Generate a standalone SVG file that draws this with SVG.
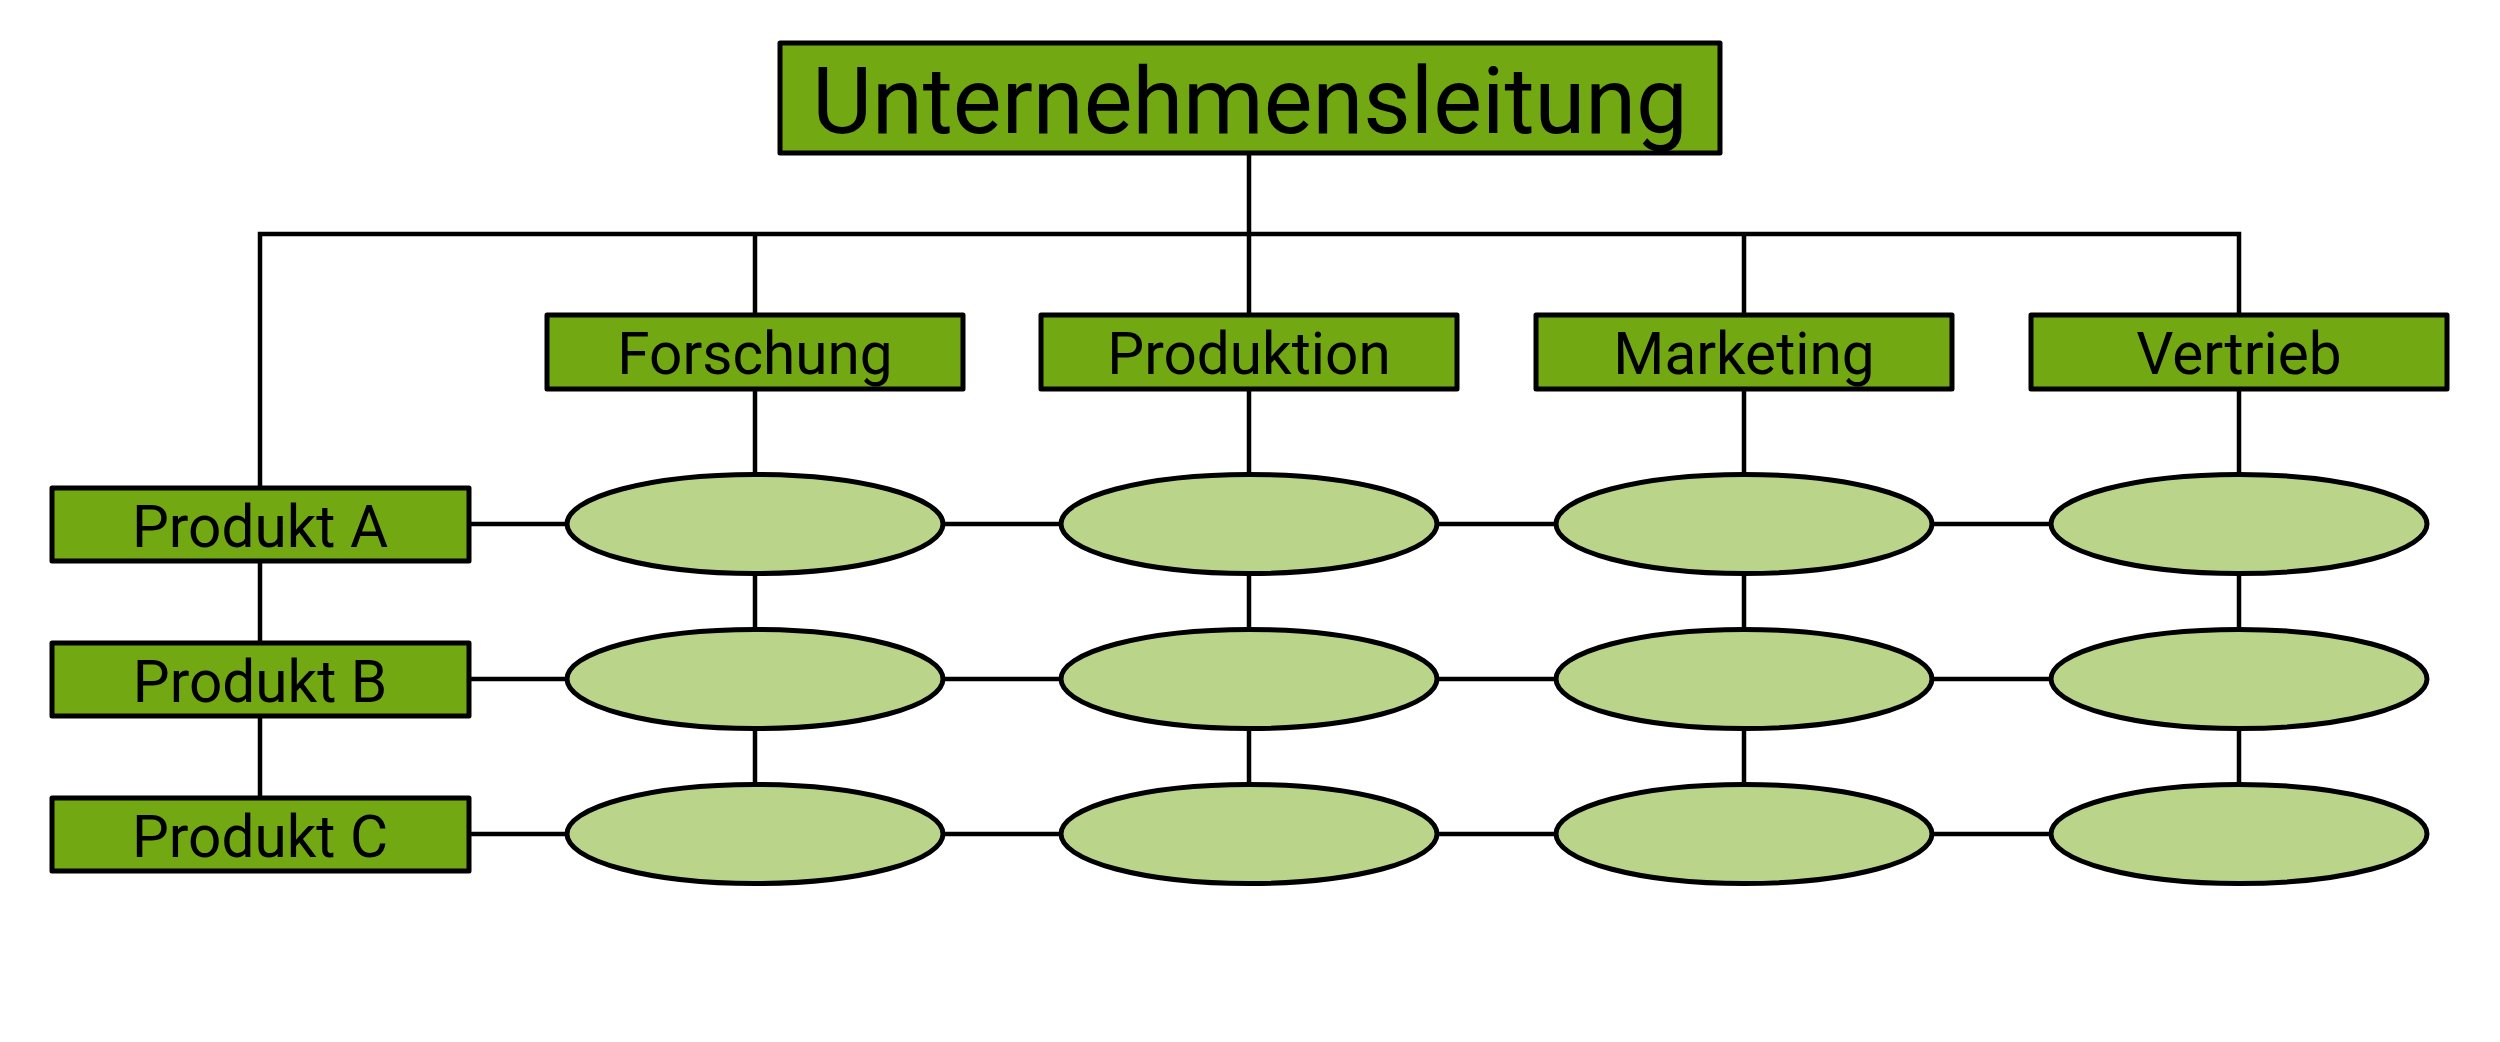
<svg xmlns="http://www.w3.org/2000/svg" width="2500" height="1042" viewBox="0 0 2500 1042">
<style>
.box{fill:#72a812;stroke:#000;stroke-width:5;stroke-linejoin:round}
.ell{fill:#bad58a;stroke:#000;stroke-width:5}
.ln{stroke:#000;stroke-width:4.5;fill:none;stroke-linejoin:miter}
.t{font-family:Roboto,"Liberation Sans",sans-serif;fill:#000;text-anchor:middle}
.big{font-size:92px}
.sm{font-size:58.5px}
</style>
<rect width="2500" height="1042" fill="#fff"/>
<g id="connectors">
<path class="ln" d="M260 834V234H2239V834"/>
<path class="ln" d="M1249 153V834M755 234V834M1744 234V834M469 524H2239M469 679H2239M469 834H2239"/>
</g>
<g id="unternehmensleitung"><rect class="box" x="780" y="43" width="940" height="110"/><text class="t big" x="1250" y="133">Unternehmensleitung</text></g>
<g id="forschung"><rect class="box" x="547" y="315" width="416" height="74"/><text class="t sm" x="755" y="374">Forschung</text></g>
<g id="produktion"><rect class="box" x="1041" y="315" width="416" height="74"/><text class="t sm" x="1249" y="374">Produktion</text></g>
<g id="marketing"><rect class="box" x="1536" y="315" width="416" height="74"/><text class="t sm" x="1744" y="374">Marketing</text></g>
<g id="vertrieb"><rect class="box" x="2031" y="315" width="416" height="74"/><text class="t sm" x="2239" y="374">Vertrieb</text></g>
<g id="produkt-a"><rect class="box" x="52" y="488" width="417" height="73"/><text class="t sm" x="260" y="547">Produkt A</text></g>
<g id="produkt-b"><rect class="box" x="52" y="643" width="417" height="73"/><text class="t sm" x="260" y="702">Produkt B</text></g>
<g id="produkt-c"><rect class="box" x="52" y="798" width="417" height="73"/><text class="t sm" x="260" y="857">Produkt C</text></g>
<g id="cell-a1"><ellipse class="ell" cx="755" cy="524" rx="188" ry="49.5"/></g>
<g id="cell-a2"><ellipse class="ell" cx="1249" cy="524" rx="188" ry="49.5"/></g>
<g id="cell-a3"><ellipse class="ell" cx="1744" cy="524" rx="188" ry="49.5"/></g>
<g id="cell-a4"><ellipse class="ell" cx="2239" cy="524" rx="188" ry="49.5"/></g>
<g id="cell-b1"><ellipse class="ell" cx="755" cy="679" rx="188" ry="49.5"/></g>
<g id="cell-b2"><ellipse class="ell" cx="1249" cy="679" rx="188" ry="49.5"/></g>
<g id="cell-b3"><ellipse class="ell" cx="1744" cy="679" rx="188" ry="49.5"/></g>
<g id="cell-b4"><ellipse class="ell" cx="2239" cy="679" rx="188" ry="49.5"/></g>
<g id="cell-c1"><ellipse class="ell" cx="755" cy="834" rx="188" ry="49.5"/></g>
<g id="cell-c2"><ellipse class="ell" cx="1249" cy="834" rx="188" ry="49.5"/></g>
<g id="cell-c3"><ellipse class="ell" cx="1744" cy="834" rx="188" ry="49.5"/></g>
<g id="cell-c4"><ellipse class="ell" cx="2239" cy="834" rx="188" ry="49.5"/></g>
</svg>
